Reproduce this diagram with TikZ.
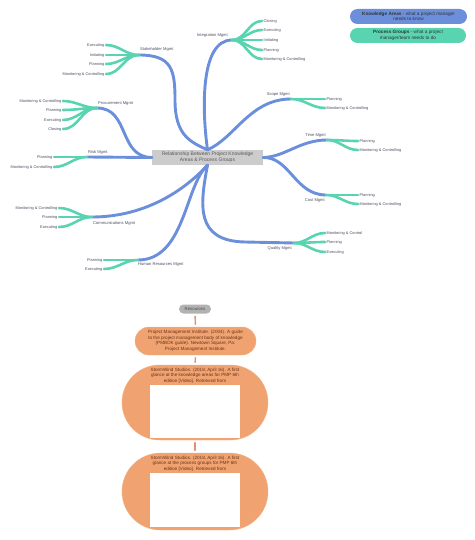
\documentclass[tikz,border=0pt]{standalone}
\usepackage{fontspec}
\setmainfont{Liberation Sans}
\usetikzlibrary{calc}
\usetikzlibrary{shapes.misc}
\definecolor{kablue}{rgb}{0.42,0.56,0.86}
\definecolor{pgteal}{rgb}{0.35,0.83,0.69}
\definecolor{ctrgray}{rgb}{0.8,0.8,0.8}
\definecolor{resgray}{rgb}{0.7,0.7,0.7}
\definecolor{reforange}{rgb}{0.94,0.64,0.44}
\definecolor{refline}{rgb}{0.9,0.55,0.45}
\definecolor{reftext}{rgb}{0.42,0.2,0.1}
\definecolor{lbltext}{rgb}{0.3,0.3,0.38}
\tikzset{
  kaline/.style={line width=2.9pt,color=kablue,line cap=round},
  pgline/.style={line width=2.6pt,color=pgteal,line cap=round},
  leaf/.style={font=\fontsize{3.9}{4.5}\selectfont,text=lbltext,inner sep=1.5pt},
  area/.style={font=\fontsize{4.1}{4.8}\selectfont,text=lbltext,inner sep=1pt},
  pill/.style={rounded rectangle,inner sep=0pt,align=center},
  refbody/.style={font=\fontsize{4.6}{5.5}\selectfont,text=reftext,align=center,inner sep=0pt},
  refconn/.style={line width=1.4pt,color=refline,shorten >=2.5pt,shorten <=2.5pt}
}

\begin{document}
\begin{tikzpicture}[line cap=round,line join=round,x=1pt,y=-1pt]
  \useasboundingbox (0,0) rectangle (474,540);
  % centre
  \node[fill=ctrgray,minimum width=111pt,minimum height=15pt,inner sep=0pt,align=center,
        font=\fontsize{5}{5.8}\selectfont,text=black!65] (ctr) at (207.5,157.5)
        {Relationship Between Project Knowledge\\Areas \& Process Groups};
  % legend
  \node[pill,fill=kablue,minimum width=117pt,minimum height=15pt,font=\fontsize{4.7}{5.5}\selectfont,text=black!80] (legka) at (408.5,16.5)
        {\textbf{Knowledge Areas} - what a project manager\\needs to know};
  \node[pill,fill=pgteal,minimum width=116pt,minimum height=15pt,font=\fontsize{4.7}{5.5}\selectfont,text=black!80] (legpg) at (408,35.5)
        {\textbf{Process Groups} - what a project\\manager/team needs to do};
  % junctions
  \coordinate (jstake) at (139,55);
  \coordinate (jinteg) at (232,40);
  \coordinate (jscope) at (291,99);
  \coordinate (jtime) at (327,140);
  \coordinate (jcost) at (326,195);
  \coordinate (jqual) at (294,243);
  \coordinate (jhr) at (138,260);
  \coordinate (jcomm) at (92,217);
  \coordinate (jrisk) at (87,157);
  \coordinate (jproc) at (97,108);
  % knowledge areas
  \draw[kaline] (jstake) .. controls (172,55) and (175,70) .. (175,100) .. controls (175,135) and (190,142) .. (ctr.north);
  \draw[kaline] (ctr.north) .. controls (202,110) and (200,40) .. (jinteg);
  \draw[kaline] (ctr.north) .. controls (235,138) and (250,99) .. (jscope);
  \draw[kaline] (ctr.east) .. controls (285,157) and (300,140) .. (jtime);
  \draw[kaline] (ctr.east) .. controls (290,157) and (295,195) .. (jcost);
  \draw[kaline] (ctr.south) .. controls (200,205) and (195,241) .. (245,242) -- (jqual);
  \draw[kaline] (ctr.south) .. controls (185,185) and (185,260) .. (jhr);
  \draw[kaline] (ctr.south) .. controls (180,195) and (140,217) .. (jcomm);
  \draw[kaline] (ctr.west) -- (jrisk);
  \draw[kaline] (jproc) .. controls (130,108) and (118,157) .. (ctr.west);
  \node[area,anchor=west] (stake) at (139,49) {Stakeholder Mgmt};
  \node[area,anchor=east] (integ) at (229,35) {Integration Mgmt};
  \node[area,anchor=east] (scope) at (291,94) {Scope Mgmt};
  \node[area,anchor=east] (time) at (327,135) {Time Mgmt};
  \node[area,anchor=east] (cost) at (326,200) {Cost Mgmt};
  \node[area,anchor=east] (qual) at (293,248) {Quality Mgmt};
  \node[area,anchor=west] (hr) at (137,265) {Human Resources Mgmt};
  \node[area,anchor=west] (comm) at (92,223) {Communications Mgmt};
  \node[area,anchor=west] (risk) at (87,152) {Risk Mgmt};
  \node[area,anchor=west] (proc) at (97,104) {Procurement Mgmt};
  % process groups
  \node[leaf,anchor=east] (stake1) at (106,45) {Executing};
  \node[leaf,anchor=east] (stake2) at (106,55) {Initiating};
  \node[leaf,anchor=east] (stake3) at (106,64) {Planning};
  \node[leaf,anchor=east] (stake4) at (106,74) {Monitoring \& Controlling};
  \draw[pgline] (jstake) to[out=180,in=0] (stake1.east);
  \draw[pgline] (jstake) to[out=180,in=0] (stake2.east);
  \draw[pgline] (jstake) to[out=180,in=0] (stake3.east);
  \draw[pgline] (jstake) to[out=180,in=0] (stake4.east);
  \node[leaf,anchor=west] (integ1) at (262,21) {Closing};
  \node[leaf,anchor=west] (integ2) at (262,30) {Executing};
  \node[leaf,anchor=west] (integ3) at (262,40) {Initiating};
  \node[leaf,anchor=west] (integ4) at (262,50) {Planning};
  \node[leaf,anchor=west] (integ5) at (262,59) {Monitoring \& Controlling};
  \draw[pgline] (jinteg) to[out=0,in=180] (integ1.west);
  \draw[pgline] (jinteg) to[out=0,in=180] (integ2.west);
  \draw[pgline] (jinteg) to[out=0,in=180] (integ3.west);
  \draw[pgline] (jinteg) to[out=0,in=180] (integ4.west);
  \draw[pgline] (jinteg) to[out=0,in=180] (integ5.west);
  \node[leaf,anchor=west] (scope1) at (325,99) {Planning};
  \node[leaf,anchor=west] (scope2) at (325,108) {Monitoring \& Controlling};
  \draw[pgline] (jscope) to[out=0,in=180] (scope1.west);
  \draw[pgline] (jscope) to[out=0,in=180] (scope2.west);
  \node[leaf,anchor=west] (time1) at (358,141) {Planning};
  \node[leaf,anchor=west] (time2) at (358,150) {Monitoring \& Controlling};
  \draw[pgline] (jtime) to[out=0,in=180] (time1.west);
  \draw[pgline] (jtime) to[out=0,in=180] (time2.west);
  \node[leaf,anchor=west] (cost1) at (358,195) {Planning};
  \node[leaf,anchor=west] (cost2) at (358,204) {Monitoring \& Controlling};
  \draw[pgline] (jcost) to[out=0,in=180] (cost1.west);
  \draw[pgline] (jcost) to[out=0,in=180] (cost2.west);
  \node[leaf,anchor=west] (qual1) at (325,233) {Monitoring \& Control};
  \node[leaf,anchor=west] (qual2) at (325,242) {Planning};
  \node[leaf,anchor=west] (qual3) at (325,252) {Executing};
  \draw[pgline] (jqual) to[out=0,in=180] (qual1.west);
  \draw[pgline] (jqual) to[out=0,in=180] (qual2.west);
  \draw[pgline] (jqual) to[out=0,in=180] (qual3.west);
  \node[leaf,anchor=east] (hr1) at (104,260) {Planning};
  \node[leaf,anchor=east] (hr2) at (104,269) {Executing};
  \draw[pgline] (jhr) to[out=180,in=0] (hr1.east);
  \draw[pgline] (jhr) to[out=180,in=0] (hr2.east);
  \node[leaf,anchor=east] (comm1) at (59,208) {Monitoring \& Controlling};
  \node[leaf,anchor=east] (comm2) at (59,217) {Planning};
  \node[leaf,anchor=east] (comm3) at (59,227) {Executing};
  \draw[pgline] (jcomm) to[out=180,in=0] (comm1.east);
  \draw[pgline] (jcomm) to[out=180,in=0] (comm2.east);
  \draw[pgline] (jcomm) to[out=180,in=0] (comm3.east);
  \node[leaf,anchor=east] (risk1) at (54,157) {Planning};
  \node[leaf,anchor=east] (risk2) at (54,167) {Monitoring \& Controlling};
  \draw[pgline] (jrisk) to[out=180,in=0] (risk1.east);
  \draw[pgline] (jrisk) to[out=180,in=0] (risk2.east);
  \node[leaf,anchor=east] (proc1) at (63,101) {Monitoring \& Controlling};
  \node[leaf,anchor=east] (proc2) at (63,110) {Planning};
  \node[leaf,anchor=east] (proc3) at (63,120) {Executing};
  \node[leaf,anchor=east] (proc4) at (63,129) {Closing};
  \draw[pgline] (jproc) to[out=180,in=0] (proc1.east);
  \draw[pgline] (jproc) to[out=180,in=0] (proc2.east);
  \draw[pgline] (jproc) to[out=180,in=0] (proc3.east);
  \draw[pgline] (jproc) to[out=180,in=0] (proc4.east);
  % resources
  \node[pill,fill=resgray,minimum width=32pt,minimum height=9pt,font=\fontsize{4.3}{5}\selectfont,text=black!70] (res) at (195,309) {Resources};
  \node[pill,fill=reforange,draw=reforange!85!white,minimum width=121pt,minimum height=28pt,refbody] (ref1) at (195.5,341)
        {Project Management Institute. (2004). A guide\\to the project management body of knowledge\\(PMBOK guide). Newtown Square, Pa:\\Project Management Institute.};
  \node[pill,fill=reforange,draw=reforange!85!white,minimum width=146pt,minimum height=75pt] (ref2) at (195,402.5) {};
  \node[refbody,anchor=north] (ref2txt) at ($(ref2.north)+(0,3)$)
        {StormWind Studios. (2018, April 16). A first\\glance at the knowledge areas for PMP 6th\\edition [Video]. Retrieved from};
  \node[fill=white,minimum width=90pt,minimum height=53pt,inner sep=0pt,anchor=north] (ref2img) at (195,385) {};
  \node[pill,fill=reforange,draw=reforange!85!white,minimum width=146pt,minimum height=77pt] (ref3) at (195,491.5) {};
  \node[refbody,anchor=north] (ref3txt) at ($(ref3.north)+(0,3)$)
        {StormWind Studios. (2018, April 16). A first\\glance at the process groups for PMP 6th\\edition [Video]. Retrieved from};
  \node[fill=white,minimum width=90pt,minimum height=54pt,inner sep=0pt,anchor=north] (ref3img) at (195,473) {};
  \draw[refconn] (res.south) -- (ref1.north);
  \draw[refconn] (ref1.south) -- (ref2.north);
  \draw[refconn] (ref2.south) -- (ref3.north);
\end{tikzpicture}
\end{document}
